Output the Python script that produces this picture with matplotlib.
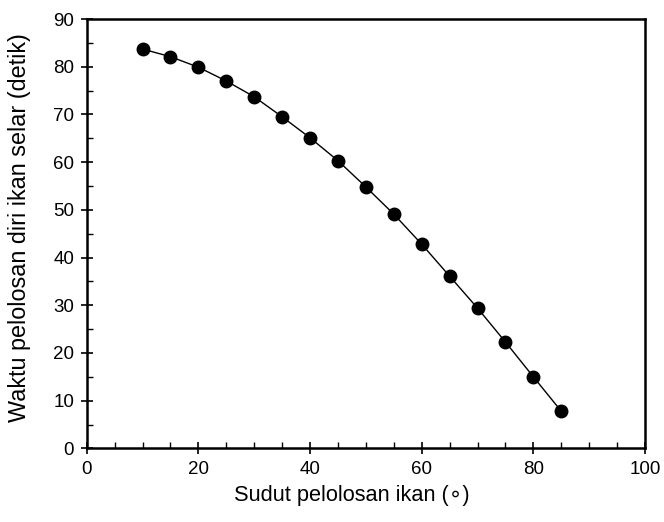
import matplotlib
matplotlib.use("Agg")
import matplotlib.pyplot as plt
from matplotlib.ticker import MultipleLocator

plt.rcParams['font.family'] = ['Liberation Sans', 'DejaVu Sans']

# data
sudut = [10, 15, 20, 25, 30, 35, 40, 45, 50, 55, 60, 65, 70, 75, 80, 85]
waktu = [83.7, 82.1, 79.9, 77.0, 73.7, 69.5, 65.1, 60.3, 54.8, 49.1, 42.8, 36.1, 29.4, 22.3, 15.0, 7.8]

fig = plt.figure(figsize=(6.64, 5.22), dpi=100)
ax = fig.add_axes([0.1306, 0.141, 0.8408, 0.8226])

ax.plot(sudut, waktu, color='black', lw=1.0, marker='o', ms=9,
        markerfacecolor='black', markeredgecolor='black')

ax.set_xlim(0, 100)
ax.set_ylim(0, 90)
ax.xaxis.set_major_locator(MultipleLocator(20))
ax.xaxis.set_minor_locator(MultipleLocator(5))
ax.yaxis.set_major_locator(MultipleLocator(10))
ax.yaxis.set_minor_locator(MultipleLocator(5))

for s in ax.spines.values():
    s.set_linewidth(1.8)
ax.tick_params(which='major', direction='inout', length=8, width=1.2, labelsize=13.5, pad=5)
ax.tick_params(which='minor', direction='in', length=4, width=1.0)

ax.set_xlabel('Sudut pelolosan ikan (\u2218)', fontsize=15.7)
ax.set_ylabel('Waktu pelolosan diri ikan selar (detik)', fontsize=16.8)
ax.xaxis.set_label_coords(0.474, -0.085)
ax.yaxis.set_label_coords(-0.10, 0.514)

fig.savefig('out.png', dpi=100)
